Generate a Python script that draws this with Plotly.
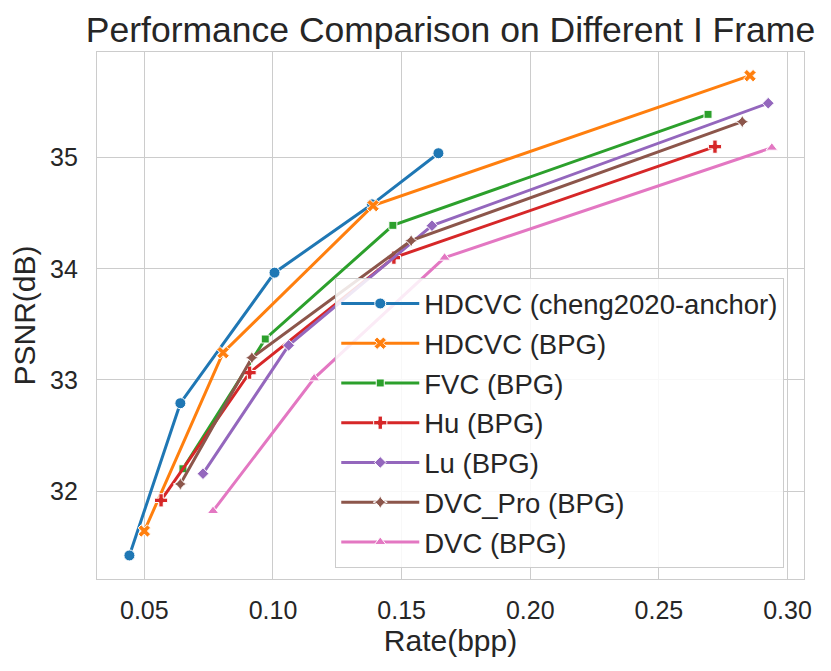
#!/usr/bin/env python3
"""Rate-distortion curves: PSNR vs bpp for different I-frame codecs."""

import plotly.graph_objects as go

# data
names = ['HDCVC (cheng2020-anchor)', 'HDCVC (BPG)', 'FVC (BPG)', 'Hu (BPG)',
         'Lu (BPG)', 'DVC_Pro (BPG)', 'DVC (BPG)']

hdcvc_cheng_rate = [0.0442, 0.0640, 0.1006, 0.1385, 0.1643]
hdcvc_cheng_psnr = [31.42, 32.79, 33.965, 34.58, 35.04]

hdcvc_bpg_rate = [0.0500, 0.0806, 0.1389, 0.2854]
hdcvc_bpg_psnr = [31.64, 33.245, 34.568, 35.738]

fvc_rate = [0.0650, 0.0970, 0.1466, 0.2691]
fvc_psnr = [32.20, 33.368, 34.391, 35.39]

hu_rate = [0.0565, 0.0909, 0.1470, 0.2718]
hu_psnr = [31.916, 33.065, 34.10, 35.099]

lu_rate = [0.0728, 0.1061, 0.1618, 0.2925]
lu_psnr = [32.156, 33.311, 34.388, 35.49]

dvc_pro_rate = [0.0640, 0.0918, 0.1537, 0.2824]
dvc_pro_psnr = [32.063, 33.20, 34.253, 35.324]

dvc_rate = [0.0767, 0.1160, 0.1667, 0.2939]
dvc_psnr = [31.82, 33.014, 34.10, 35.09]

x_ticks = [0.05, 0.10, 0.15, 0.20, 0.25, 0.30]
y_ticks = [32, 33, 34, 35]

# seaborn-ish styling
colors = ['#1f77b4', '#ff7f0e', '#2ca02c', '#d62728', '#9467bd', '#8c564b', '#e377c2']
symbols = ['circle', 'x', 'square', 'cross', 'diamond', 'star-diamond', 'triangle-up']
sizes = [11, 11, 8, 11, 9, 10, 10]
FONT = 'Liberation Sans, Arial, sans-serif'
INK = '#262626'
GRID = '#cccccc'

series = [
    (hdcvc_cheng_rate, hdcvc_cheng_psnr),
    (hdcvc_bpg_rate, hdcvc_bpg_psnr),
    (fvc_rate, fvc_psnr),
    (hu_rate, hu_psnr),
    (lu_rate, lu_psnr),
    (dvc_pro_rate, dvc_pro_psnr),
    (dvc_rate, dvc_psnr),
]

fig = go.Figure()
for i, (rate, psnr) in enumerate(series):
    fig.add_trace(go.Scatter(
        x=rate, y=psnr, name=names[i], mode='lines+markers',
        legendgroup=f'g{i}',
        line=dict(color=colors[i], width=3),
        marker=dict(symbol=symbols[i], size=sizes[i], color=colors[i],
                    line=dict(color='white', width=1)),
    ))

# the page body adds an 8px offset, margins account for it
fig.update_layout(
    width=831, height=671,
    margin=dict(l=89, r=35, t=44, b=100),
    paper_bgcolor='white', plot_bgcolor='white',
    font=dict(family=FONT, color=INK),
    title=dict(text='Performance Comparison on Different I Frame',
               x=0.5, xref='paper', xanchor='center',
               y=1 - 22 / 671, yref='container', yanchor='middle',
               font=dict(size=35.5, color=INK)),
    legend=dict(x=0.337, y=0.571, xanchor='left', yanchor='top',
                bgcolor='rgba(255,255,255,0.85)', bordercolor=GRID, borderwidth=1,
                font=dict(size=27.5, color=INK), tracegroupgap=1,
                itemwidth=78),
    showlegend=True,
)

fig.update_xaxes(
    range=[0.0316, 0.3064], tickvals=x_ticks, tickformat='.2f',
    showgrid=True, gridcolor=GRID, gridwidth=1.3,
    showline=True, mirror=True, linecolor=GRID, linewidth=1.3,
    zeroline=False, ticks='', ticklabelstandoff=9,
    tickfont=dict(size=25, color=INK),
    title=dict(text='Rate(bpp)', font=dict(size=30, color=INK), standoff=4),
)
fig.update_yaxes(
    range=[31.208, 35.951], tickvals=y_ticks,
    showgrid=True, gridcolor=GRID, gridwidth=1.3,
    showline=True, mirror=True, linecolor=GRID, linewidth=1.3,
    zeroline=False, ticks='', ticklabelstandoff=13,
    tickfont=dict(size=25, color=INK),
    title=dict(text='PSNR(dB)', font=dict(size=30, color=INK), standoff=6),
)

fig.write_html('out.html')
